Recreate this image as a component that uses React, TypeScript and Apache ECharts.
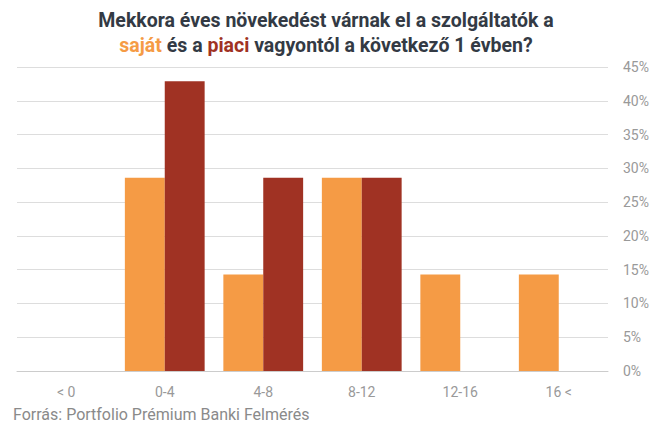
import React, { useEffect, useRef } from "react";
import * as echarts from "echarts";

const categories = ["< 0", "0-4", "4-8", "8-12", "12-16", "16 <"];
const sajat = [0, 28.6, 14.3, 28.6, 14.3, 14.3];
const piaci = [0, 42.9, 28.6, 28.6, 0, 0];
const yTicks = { min: 0, max: 45, interval: 5 };

export default function App() {
  const ref = useRef<HTMLDivElement>(null);
  useEffect(() => {
    const chart = echarts.init(ref.current!, null, { renderer: "svg" });
    chart.setOption({
      animation: false,
      textStyle: { fontFamily: "Roboto" },
      title: {
        left: "center",
        top: 3,
        text: "Mekkora éves növekedést várnak el a szolgáltatók a\n{o|saját} és a {r|piaci} vagyontól a következő 1 évben?",
        textStyle: {
          fontFamily: "Roboto",
          fontSize: 19.5,
          fontWeight: "bold",
          color: "#333a44",
          lineHeight: 25,
          rich: {
            o: { fontFamily: "Roboto", fontSize: 19.5, fontWeight: "bold", color: "#f59b45", lineHeight: 25 },
            r: { fontFamily: "Roboto", fontSize: 19.5, fontWeight: "bold", color: "#a03223", lineHeight: 25 },
          },
        },
      },
      graphic: [
        {
          type: "text",
          left: 13,
          top: 406,
          style: {
            text: "Forrás: Portfolio Prémium Banki Felmérés",
            fontFamily: "Roboto",
            fontSize: 16,
            fill: "#8a8a8a",
          },
        },
      ],
      grid: { left: 17, right: 44, top: 67, bottom: 55 },
      xAxis: {
        type: "category",
        data: categories,
        axisLine: { lineStyle: { color: "#cccccc" } },
        axisTick: { show: false },
        axisLabel: { color: "#999999", fontSize: 14, margin: 14, fontFamily: "Roboto" },
      },
      yAxis: {
        type: "value",
        position: "right",
        min: yTicks.min,
        max: yTicks.max,
        interval: yTicks.interval,
        axisLine: { show: false },
        axisTick: { show: false },
        axisLabel: { formatter: "{value}%", color: "#999999", fontSize: 14, margin: 15, fontFamily: "Roboto" },
        splitLine: { lineStyle: { color: "#dddddd" } },
      },
      series: [
        {
          name: "saját",
          type: "bar",
          data: sajat,
          barGap: "0%",
          barCategoryGap: "19%",
          itemStyle: { color: "#f59b45" },
        },
        {
          name: "piaci",
          type: "bar",
          data: piaci,
          itemStyle: { color: "#a03223" },
        },
      ],
    });
    return () => chart.dispose();
  }, []);
  return <div ref={ref} style={{ width: 652, height: 426, position: "absolute", left: 0, top: 0 }} />;
}
